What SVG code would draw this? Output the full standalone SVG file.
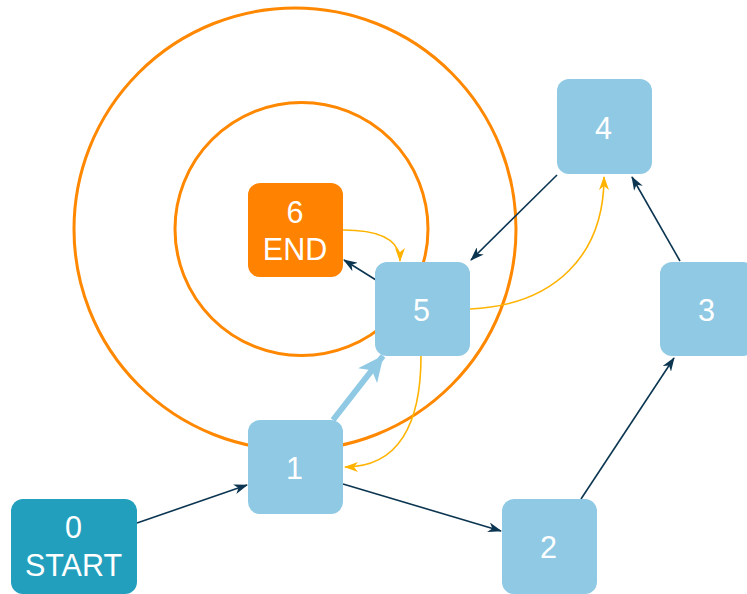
<svg xmlns="http://www.w3.org/2000/svg" width="747" height="594" viewBox="0 0 747 594">
  <style>
    .node { fill: #8fc9e4; }
    .start { fill: #229fbd; }
    .end { fill: #ff8300; }
    .label { fill: #ffffff; font-family: "Liberation Sans", Arial, sans-serif; font-size: 30.5px; text-anchor: middle; }
    .ring { fill: none; stroke: #ff8800; stroke-width: 3; }
    .edge { fill: none; stroke: #0b3550; stroke-width: 1.6; marker-end: url(#dark); }
    .hint { fill: none; stroke: #ffb300; stroke-width: 1.6; marker-end: url(#gold); }
    .step { fill: none; stroke: #8fc9e4; stroke-width: 6; marker-end: url(#blue); }
  </style>
  <defs>
    <marker id="dark" viewBox="0 0 14 10" refX="13" refY="5" markerWidth="14" markerHeight="10" markerUnits="userSpaceOnUse" orient="auto">
      <path d="M0,0 L14,5 L0,10 L4,5 Z" fill="#0b3550"/>
    </marker>
    <marker id="gold" viewBox="0 0 14 10" refX="13" refY="5" markerWidth="14" markerHeight="10" markerUnits="userSpaceOnUse" orient="auto">
      <path d="M0,0 L14,5 L0,10 L4,5 Z" fill="#ffb300"/>
    </marker>
    <marker id="blue" viewBox="0 0 26 24" refX="25" refY="12" markerWidth="26" markerHeight="24" markerUnits="userSpaceOnUse" orient="auto">
      <path d="M0,0 L26,12 L0,24 L7,12 Z" fill="#8fc9e4"/>
    </marker>
  </defs>

  <!-- distance rings around the goal -->
  <g id="rings">
    <circle class="ring" cx="295" cy="229" r="221"/>
    <circle class="ring" cx="301.5" cy="229" r="126.5"/>
  </g>

  <g id="connectors">
    <line class="edge" x1="137" y1="523" x2="247" y2="485"/>
    <line class="edge" x1="343" y1="484" x2="501" y2="531"/>
    <line class="edge" x1="581" y1="499" x2="674" y2="358"/>
    <line class="edge" x1="680" y1="261" x2="632" y2="177"/>
    <line class="edge" x1="557" y1="175" x2="471" y2="260"/>
    <line class="edge" x1="376" y1="280" x2="344" y2="260"/>
    <path class="hint" d="M343,230 C380,230 400,240 400,261"/>
    <path class="hint" d="M470,309 C555,305 604,255 604,177"/>
    <path class="hint" d="M421,356 C421,425 398,467 345,467"/>
    <line class="step" x1="333" y1="420" x2="383" y2="356"/>
  </g>

  <g id="node-0">
    <rect class="start" x="11" y="499" width="126" height="95" rx="12"/>
    <text class="label" x="73.5" y="538">0</text>
    <text class="label" x="73.5" y="576">START</text>
  </g>
  <g id="node-1">
    <rect class="node" x="248" y="420" width="95" height="94" rx="12"/>
    <text class="label" x="294.5" y="479">1</text>
  </g>
  <g id="node-2">
    <rect class="node" x="502" y="499" width="95" height="95" rx="12"/>
    <text class="label" x="548.5" y="558">2</text>
  </g>
  <g id="node-3">
    <rect class="node" x="660" y="262" width="95" height="94" rx="12"/>
    <text class="label" x="706.5" y="321">3</text>
  </g>
  <g id="node-4">
    <rect class="node" x="557" y="79" width="95" height="95" rx="12"/>
    <text class="label" x="603.5" y="139">4</text>
  </g>
  <g id="node-5">
    <rect class="node" x="375" y="262" width="95" height="94" rx="12"/>
    <text class="label" x="421.5" y="321">5</text>
  </g>
  <g id="node-6">
    <rect class="end" x="248" y="183" width="95" height="94" rx="12"/>
    <text class="label" x="295" y="223">6</text>
    <text class="label" x="295" y="260">END</text>
  </g>
</svg>
